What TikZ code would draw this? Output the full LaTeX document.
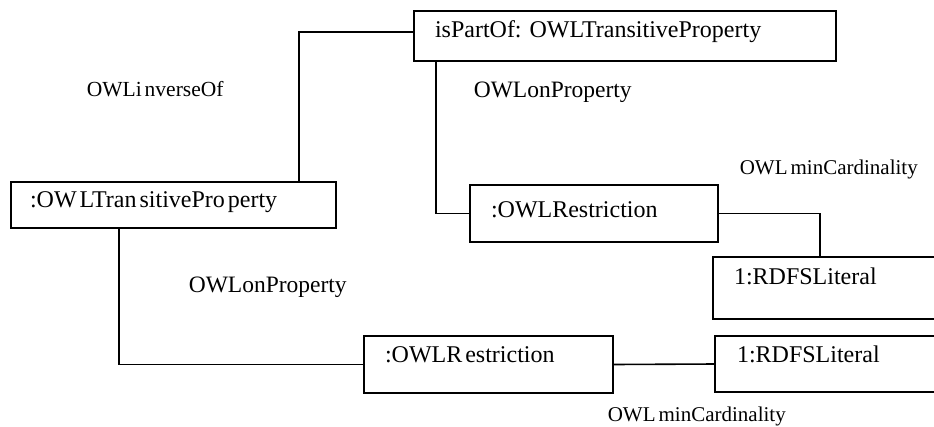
\documentclass[tikz,border=0pt]{standalone}
\usepackage{fontspec}
\setmainfont{Liberation Serif}
\usetikzlibrary{calc}

% small gap as printed inside some names
\newcommand{\gp}{\kern3pt}

\begin{document}
\begin{tikzpicture}[x=1pt, y=-1pt, line width=1.6pt,
    classbox/.style={draw, anchor=north west, align=left, outer sep=0pt,
      inner ysep=8pt, font=\fontsize{24}{28}\selectfont},
    rolelabel/.style={anchor=base west, inner sep=0pt}]

        % Frame of the picture
        \useasboundingbox (0,0) rectangle (934,426);
        \clip (0,0) rectangle (934,426);

        % Class boxes
        \node[classbox, inner xsep=21pt, text width=380pt, text height=18pt, text depth=16pt]
          (partof) at (414,11) {isPartOf:\ OWLTransitiveProperty};
        \node[classbox, inner xsep=19pt, text width=287pt, text height=17pt, text depth=13pt]
          (trans) at (11,182) {:OW\gp LTran\gp sitivePro\gp perty};
        \node[classbox, inner xsep=21pt, text width=206pt, text height=24pt, text depth=17pt]
          (restrA) at (470,185) {:OWLRestriction};
        \node[classbox, inner xsep=21pt, text width=205pt, text height=19pt, text depth=27pt]
          (litA) at (713,257) {1:RDFSLiteral};
        \node[classbox, inner xsep=21pt, text width=207pt, text height=18pt, text depth=23pt]
          (restrB) at (364,336) {:OWLR\gp estriction};
        \node[classbox, inner xsep=22pt, text width=201pt, text height=18pt, text depth=22pt]
          (litB) at (715,336) {1:RDFSLiteral};

        % Connectors
        \draw ([xshift=288pt]trans.north west) |- ([yshift=4pt]partof.west);
        \draw ([xshift=22pt]partof.south west) |- (restrA.west);
        \draw (restrA.east) -| ([xshift=107pt]litA.north west);
        \draw ([xshift=108pt]trans.south west) |- (restrB.west);
        \draw (restrB.east) -- (litB.west);

        % Role names
        \node[rolelabel, font=\fontsize{21.5}{24}\selectfont] (inv) at (86,96) {OWLi\gp nverseOf};
        \node[rolelabel, font=\fontsize{23.5}{26}\selectfont] (onpA) at (473,97) {OWLonProperty};
        \node[rolelabel, font=\fontsize{21}{24}\selectfont] (minA) at (739,174) {OWL\gp minCardinality};
        \node[rolelabel, font=\fontsize{23.5}{26}\selectfont] (onpB) at (188,292) {OWLonProperty};
        \node[rolelabel, font=\fontsize{21}{24}\selectfont] (minB) at (607,421) {OWL\gp minCardinality};

      \end{tikzpicture}
\end{document}
